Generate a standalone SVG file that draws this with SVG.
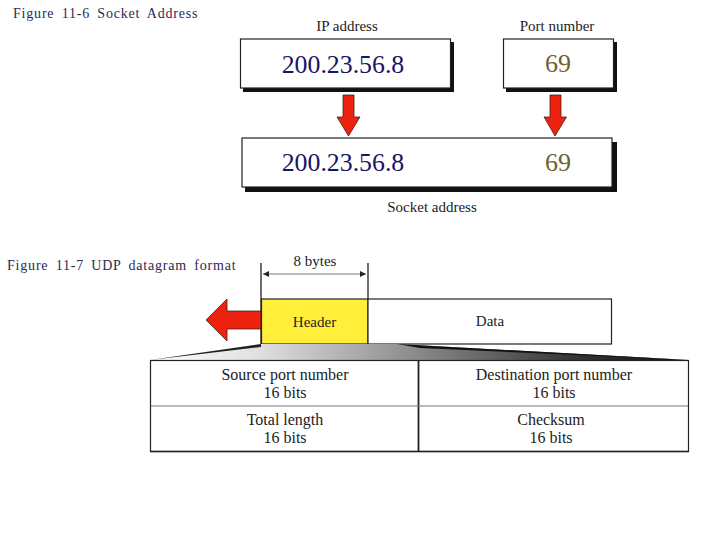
<svg xmlns="http://www.w3.org/2000/svg" width="720" height="540" viewBox="0 0 720 540">
<style>
text{font-family:"Liberation Serif","Times New Roman",serif;fill:#222;text-anchor:middle}
.cap{font-size:14px;fill:#2a2a55;text-anchor:start;letter-spacing:.8px;word-spacing:3px}
.lab{font-size:15px}
.cell{font-size:16px}
.ip{font-size:25.800px;fill:#1a1464}
.pt{font-size:26px;fill:#6e5f2c}
.box{fill:#fff;stroke:#222;stroke-width:1.2}
.shadow{fill:#111}
.red{fill:#ee2211;stroke:#442211;stroke-width:.8}
.ln{stroke:#222;stroke-width:1.300;fill:none}
.thin{stroke:#777;stroke-width:1;fill:none}
</style>
<defs>
<linearGradient id="fan" gradientUnits="userSpaceOnUse" x1="151" x2="689" y1="0" y2="0">
<stop offset="0" stop-color="#fff"/>
<stop offset="0.2" stop-color="#e0e0e0"/>
<stop offset="0.5" stop-color="#888"/>
<stop offset="0.8" stop-color="#333"/>
<stop offset="1" stop-color="#111"/>
</linearGradient>
<marker id="tick" markerWidth="7" markerHeight="6" refX="6" refY="3" orient="auto-start-reverse"><path d="M0 0L6 3L0 6Z" fill="#222"/></marker>
</defs>
<text class="cap" x="13" y="18">Figure 11-6 Socket Address</text>
<text class="cap" x="7" y="270">Figure 11-7 UDP datagram format</text>

<g id="ip-address">
<text class="lab" x="347" y="31">IP address</text>
<rect class="shadow" x="243" y="42" width="211" height="50"/>
<rect class="box" x="240.500" y="39" width="210" height="49"/>
<text class="ip" x="343" y="73">200.23.56.8</text>
</g>
<g id="port-number">
<text class="lab" x="557" y="31">Port number</text>
<rect class="shadow" x="506" y="42" width="111" height="50"/>
<rect class="box" x="503.500" y="39" width="110" height="49"/>
<text class="pt" x="558" y="72">69</text>
</g>
<g id="socket-address">
<rect class="shadow" x="245" y="142" width="372" height="50"/>
<rect class="box" x="242" y="138" width="370" height="49"/>
<text class="ip" x="343" y="171">200.23.56.8</text>
<text class="pt" x="558" y="171">69</text>
<text class="lab" x="432" y="212">Socket address</text>
</g>

<g id="connectors">
<path class="red" d="M343 95H354V117H360L348.500 136L337 117H343Z"/>
<path class="red" d="M550 95H561V117H566.500L555 136L544 117H550Z"/>
<path class="ln" d="M261 263V345M368 263V345"/>
<path class="thin" d="M263 274H366" marker-start="url(#tick)" marker-end="url(#tick)"/>
<path class="red" d="M261 311H227V299L206 320L227 341V329H261Z"/>
</g>

<g id="size-label"><text class="lab" x="315" y="266">8 bytes</text></g>
<g id="header">
<rect x="261.500" y="299" width="106.500" height="45" fill="#ffef3a" stroke="#222" stroke-width="1.200"/>
<text class="lab" x="314.500" y="327">Header</text>
</g>
<g id="data">
<rect class="box" x="368" y="299" width="243.500" height="45"/>
<text class="lab" x="490" y="326">Data</text>
</g>

<g id="udp-header">
<path d="M151 360L261 344H397L689 360Z" fill="url(#fan)"/>
<path d="M150 360L261 344L261 347Z" fill="#222"/>
<path d="M397 344L689 360L420 348Z" fill="#111"/>
<rect class="box" x="150.500" y="360.500" width="538" height="91"/>
<path d="M418.500 360V452" stroke="#222" stroke-width="1.800" fill="none"/>
<path d="M150 451.500H689" stroke="#222" stroke-width="1.600" fill="none"/>
<path class="thin" d="M151 406H688"/>
<text class="cell" x="285" y="380">Source port number</text>
<text class="cell" x="285" y="398">16 bits</text>
<text class="cell" x="285" y="425">Total length</text>
<text class="cell" x="285" y="443">16 bits</text>
<text class="cell" x="554" y="380">Destination port number</text>
<text class="cell" x="554" y="398">16 bits</text>
<text class="cell" x="551" y="425">Checksum</text>
<text class="cell" x="551" y="443">16 bits</text>
</g>
</svg>
